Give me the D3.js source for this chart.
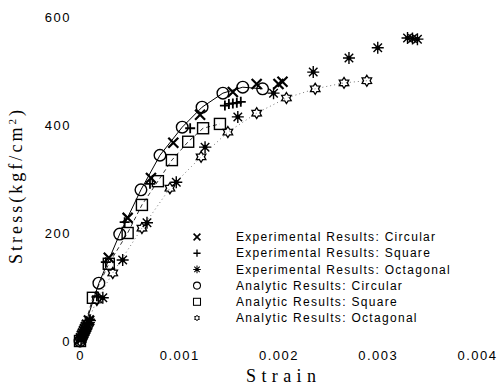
<!DOCTYPE html>
<html>
<head>
<meta charset="utf-8">
<script src="https://cdnjs.cloudflare.com/ajax/libs/d3/7.8.5/d3.min.js"></script>
<style>
body { margin: 0; background: #fff; }
</style>
</head>
<body>
<script>
// series values: [strain, stress]
var expCircular = [
    [0.00001, 5], [0.00002, 10], [0.00003, 14], [0.00004, 18], [0.00005, 22], [0.00006, 26], [0.00007, 30], [0.00009, 38],
    [0.00029, 154], [0.00048, 228], [0.000715, 302], [0.00094, 367],
    [0.00121, 419], [0.00154, 461], [0.00178, 476], [0.00200, 476], [0.00204, 480]
];
var expSquare = [
    [0.00002, 8], [0.00004, 17], [0.00006, 25], [0.00008, 33], [0.0001, 40],
    [0.00017, 83], [0.00026, 146], [0.00045, 220], [0.000705, 291],
    [0.00111, 394], [0.00146, 436], [0.0015, 439], [0.00154, 440], [0.00158, 441], [0.00162, 443]
];
var expOctagonal = [
    [0.00001, 2], [0.00002, 6], [0.00003, 10], [0.00004, 14], [0.00005, 18], [0.00006, 22], [0.00007, 26], [0.00008, 30], [0.00009, 34], [0.0001, 38],
    [0.00023, 80], [0.00043, 150], [0.000675, 219], [0.00097, 294],
    [0.00126, 359], [0.00159, 415], [0.00195, 459], [0.00235, 498],
    [0.00271, 524], [0.0030, 543], [0.0033, 561], [0.00335, 560], [0.0034, 559]
];
var anaCircular = [
    [0, 0], [0.00019, 107], [0.0004, 198], [0.000614, 280], [0.000806, 344],
    [0.00103, 396], [0.00123, 433], [0.00144, 459], [0.00164, 470], [0.00184, 467]
];
var anaSquare = [
    [0, 0], [0.00013, 80], [0.00029, 143], [0.00048, 200], [0.000624, 252],
    [0.000785, 296], [0.000926, 335], [0.00109, 369], [0.00124, 394], [0.00141, 402]
];
var anaOctagonal = [
    [0, 0], [0.00017, 76], [0.00033, 126], [0.000624, 209], [0.000906, 283],
    [0.00122, 341], [0.00149, 387], [0.00178, 422], [0.00208, 450],
    [0.00237, 467], [0.00266, 478], [0.00289, 482]
];

// tick labels
var xTicks = [0, 0.001, 0.002, 0.003, 0.004];
var xTickLabels = ['0', '0.001', '0.002', '0.003', '0.004'];
var yTicks = [0, 200, 400, 600];
var yTickLabels = ['0', '200', '400', '600'];

// legend
var legendNames = [
    'Experimental Results: Circular',
    'Experimental Results: Square',
    'Experimental Results: Octagonal',
    'Analytic Results: Circular',
    'Analytic Results: Square',
    'Analytic Results: Octagonal'
];
var legendSymbols = ['cross', 'plus', 'aster', 'circle', 'square', 'star'];

var ink = '#000';

// canvas
var svg = d3.select('body')
    .append('svg')
    .attr('width', 499)
    .attr('height', 385);

svg.append('rect')
    .attr('width', 499)
    .attr('height', 385)
    .attr('fill', '#fff');

var x = d3.scaleLinear().domain([0, 0.004]).range([80, 477]);
var y = d3.scaleLinear().domain([0, 600]).range([341, 17]);

// axes (labels only, no lines)
svg.append('g')
    .attr('transform', 'translate(0,341)')
    .call(d3.axisBottom(x)
        .tickValues(xTicks)
        .tickFormat(function (d, i) { return xTickLabels[i]; })
        .tickSize(0)
        .tickPadding(10))
    .call(function (g) { g.select('.domain').remove(); })
    .attr('font-family', '"Liberation Sans", Arial, sans-serif')
    .attr('font-size', 13)
    .selectAll('text')
    .attr('fill', ink)
    .attr('letter-spacing', '1.5px');

svg.append('g')
    .attr('transform', 'translate(80,0)')
    .call(d3.axisLeft(y)
        .tickValues(yTicks)
        .tickFormat(function (d, i) { return yTickLabels[i]; })
        .tickSize(0)
        .tickPadding(9))
    .call(function (g) { g.select('.domain').remove(); })
    .attr('font-family', '"Liberation Sans", Arial, sans-serif')
    .attr('font-size', 13)
    .selectAll('text')
    .attr('fill', ink)
    .attr('letter-spacing', '1.5px');

// axis titles
svg.append('text')
    .attr('x', 281)
    .attr('y', 382)
    .attr('text-anchor', 'middle')
    .attr('font-family', '"Liberation Serif", "Times New Roman", serif')
    .attr('font-size', 18)
    .attr('textLength', 70)
    .attr('lengthAdjust', 'spacing')
    .attr('fill', ink)
    .text('Strain');

var yTitle = svg.append('text')
    .attr('transform', 'translate(22,187) rotate(-90)')
    .attr('text-anchor', 'middle')
    .attr('font-family', '"Liberation Serif", "Times New Roman", serif')
    .attr('font-size', 18)
    .attr('textLength', 154)
    .attr('lengthAdjust', 'spacing')
    .attr('fill', ink);
yTitle.append('tspan').text('Stress(kgf/cm');
yTitle.append('tspan').attr('font-size', 11).attr('dy', -6).text('2');
yTitle.append('tspan').attr('dy', 6).text(')');

// analytic curves
var line = d3.line()
    .x(function (d) { return x(d[0]); })
    .y(function (d) { return y(d[1]); });

svg.append('path').datum(anaCircular)
    .attr('d', line).attr('fill', 'none')
    .attr('stroke', ink).attr('stroke-width', 1);
svg.append('path').datum(anaSquare)
    .attr('d', line).attr('fill', 'none')
    .attr('stroke', ink).attr('stroke-width', 0.8)
    .attr('stroke-dasharray', '4,3');
svg.append('path').datum(anaOctagonal)
    .attr('d', line).attr('fill', 'none')
    .attr('stroke', '#555').attr('stroke-width', 0.8)
    .attr('stroke-dasharray', '1,3');

// marker shapes
function starPoints(r) {
    var pts = [];
    for (var k = 0; k < 12; k++) {
        var a = Math.PI / 6 * k - Math.PI / 2;
        var rr = k % 2 === 0 ? r : r * 0.6;
        pts.push([rr * Math.cos(a), rr * Math.sin(a)]);
    }
    return pts.join(' ');
}

function drawMarker(g, type, s, w) {
    if (type === 'cross') {
        g.append('path')
            .attr('d', 'M' + -s + ',' + -s + 'L' + s + ',' + s + 'M' + -s + ',' + s + 'L' + s + ',' + -s)
            .attr('stroke', ink).attr('stroke-width', 2.2 * w);
    } else if (type === 'plus') {
        g.append('path')
            .attr('d', 'M' + -s + ',0H' + s + 'M0,' + -s + 'V' + s)
            .attr('stroke', ink).attr('stroke-width', 1.8 * w);
    } else if (type === 'aster') {
        var d = '';
        for (var k = 0; k < 4; k++) {
            var a = Math.PI / 4 * k;
            d += 'M' + (-s * Math.cos(a)) + ',' + (-s * Math.sin(a)) + 'L' + (s * Math.cos(a)) + ',' + (s * Math.sin(a));
        }
        g.append('path').attr('d', d).attr('stroke', ink).attr('stroke-width', 1.4 * w);
        g.append('circle').attr('r', s * 0.4).attr('fill', ink);
    } else if (type === 'circle') {
        g.append('circle').attr('r', s)
            .attr('fill', 'none').attr('stroke', ink).attr('stroke-width', 1.4 * w);
    } else if (type === 'square') {
        g.append('rect')
            .attr('x', -s).attr('y', -s).attr('width', 2 * s).attr('height', 2 * s)
            .attr('fill', 'none').attr('stroke', ink).attr('stroke-width', 1.4 * w);
    } else if (type === 'star') {
        g.append('polygon').attr('points', starPoints(s))
            .attr('fill', 'none').attr('stroke', ink).attr('stroke-width', 1.3 * w);
    }
}

var seriesList = [
    { data: anaOctagonal, type: 'star', size: 5.5 },
    { data: anaSquare, type: 'square', size: 5.5 },
    { data: anaCircular, type: 'circle', size: 5.8 },
    { data: expOctagonal, type: 'aster', size: 6 },
    { data: expSquare, type: 'plus', size: 5 },
    { data: expCircular, type: 'cross', size: 5 }
];

seriesList.forEach(function (s) {
    svg.append('g').selectAll('g').data(s.data).enter()
        .append('g')
        .attr('transform', function (d) { return 'translate(' + x(d[0]) + ',' + y(d[1]) + ')'; })
        .each(function () { drawMarker(d3.select(this), s.type, s.size, 1); });
});

// legend
var legendSizes = [3.4, 3.6, 3.8, 3.5, 3.5, 2.8];
var legend = svg.append('g');
legendNames.forEach(function (name, i) {
    var row = legend.append('g')
        .attr('transform', 'translate(0,' + (237 + i * 16.2) + ')');
    drawMarker(row.append('g').attr('transform', 'translate(197,0)'), legendSymbols[i], legendSizes[i], 0.75);
    row.append('text')
        .attr('x', 236)
        .attr('dy', '0.35em')
        .attr('font-family', '"Liberation Sans", Arial, sans-serif')
        .attr('font-size', 12)
        .attr('letter-spacing', '1.3px')
        .attr('fill', ink)
        .text(name);
});
</script>
</body>
</html>
